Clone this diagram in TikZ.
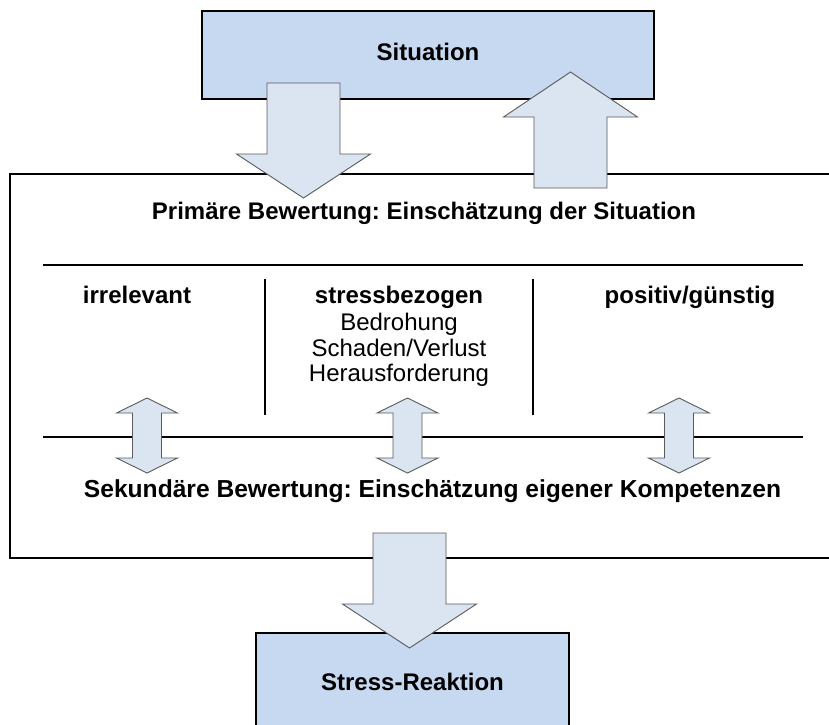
\documentclass[tikz,border=0pt]{standalone}
\usepackage{fontspec}
\setmainfont{Liberation Sans}
\frenchspacing
\definecolor{boxfill}{HTML}{C6D9F0}
\definecolor{arrfill}{HTML}{DBE5F1}
\definecolor{arrline}{HTML}{5A5A5A}
\tikzset{
  blockbox/.style={draw=black, line width=2pt, fill=boxfill, inner sep=0pt, outer sep=0pt, anchor=north west},
  framebox/.style={draw=black, line width=2pt, inner sep=0pt, outer sep=0pt, anchor=north west},
  blockarrow/.style={draw=arrline, line width=0.9pt, fill=arrfill, line join=miter},
  divider/.style={draw=black, line width=2pt},
  vdivider/.style={draw=black, line width=1.7pt},
  lab/.style={font=\frenchspacing\fontsize{24}{26}\selectfont, anchor=base, inner sep=0pt},
  blab/.style={font=\frenchspacing\fontsize{24}{26}\selectfont\bfseries, anchor=base, inner sep=0pt},
}
\newcommand\BlockDown[4]{\draw[blockarrow] (#1-36.5,#2) -- (#1+36.5,#2) -- (#1+36.5,#3) -- (#1+67,#3) -- (#1,#4) -- (#1-67,#3) -- (#1-36.5,#3) -- cycle;}
\newcommand\BlockUp[4]{\draw[blockarrow] (#1-36.5,#2) -- (#1+36.5,#2) -- (#1+36.5,#3) -- (#1+67,#3) -- (#1,#4) -- (#1-67,#3) -- (#1-36.5,#3) -- cycle;}
\newcommand\BlockDouble[1]{\draw[blockarrow] (#1,398) -- (#1+30.5,413) -- (#1+14.5,413) -- (#1+14.5,458) -- (#1+30.5,458) -- (#1,473) -- (#1-30.5,458) -- (#1-14.5,458) -- (#1-14.5,413) -- (#1-30.5,413) -- cycle;}
\begin{document}
\begin{tikzpicture}[x=1pt,y=-1pt]
\useasboundingbox (0,0) rectangle (829,724);
\clip (0,0) rectangle (829,724);
% frame (right edge runs past the picture)
\node[framebox, minimum width=830pt, minimum height=384.5pt] (frame) at (10,173.5) {};
% dividers
\coordinate (h1l) at (43,265); \coordinate (h1r) at (803,265);
\coordinate (h2l) at (43,437); \coordinate (h2r) at (803,437);
\coordinate (v1t) at (265,279); \coordinate (v1b) at (265,415);
\coordinate (v2t) at (533,279); \coordinate (v2b) at (533,415);
\draw[divider] (h1l) -- (h1r);
\draw[divider] (h2l) -- (h2r);
\draw[vdivider] (v1t) -- (v1b);
\draw[vdivider] (v2t) -- (v2b);
% boxes
\node[blockbox, minimum width=452pt, minimum height=88pt] (sit) at (202,11) {};
\node[blockbox, minimum width=313pt, minimum height=110pt] (stress) at (256,633) {};
% block arrows
\BlockDown{303.5}{83}{154}{198}
\BlockUp{570.5}{188}{117}{72}
\BlockDown{409.5}{533}{604}{648}
\BlockDouble{147}
\BlockDouble{407.5}
\BlockDouble{679}
% texts
\node[blab] (sittext) at (428,60) {Situation};
\node[blab] (prim) at (424,219) {Primäre Bewertung: Einschätzung der Situation};
\node[blab] (irr) at (137,303) {irrelevant};
\node[blab] (stb) at (399,303) {stressbezogen};
\node[lab] (bed) at (399,330) {Bedrohung};
\node[lab] (sch) at (399,356.5) {Schaden/Verlust};
\node[lab] (her) at (399,381.5) {Herausforderung};
\node[blab] (pos) at (690,303) {positiv/günstig};
\node[blab, font=\frenchspacing\fontsize{24.6}{26}\selectfont\bfseries] (sek) at (432.5,497) {Sekundäre Bewertung: Einschätzung eigener Kompetenzen};
\node[blab] (sttext) at (412.5,690) {Stress-Reaktion};
\end{tikzpicture}
\end{document}
